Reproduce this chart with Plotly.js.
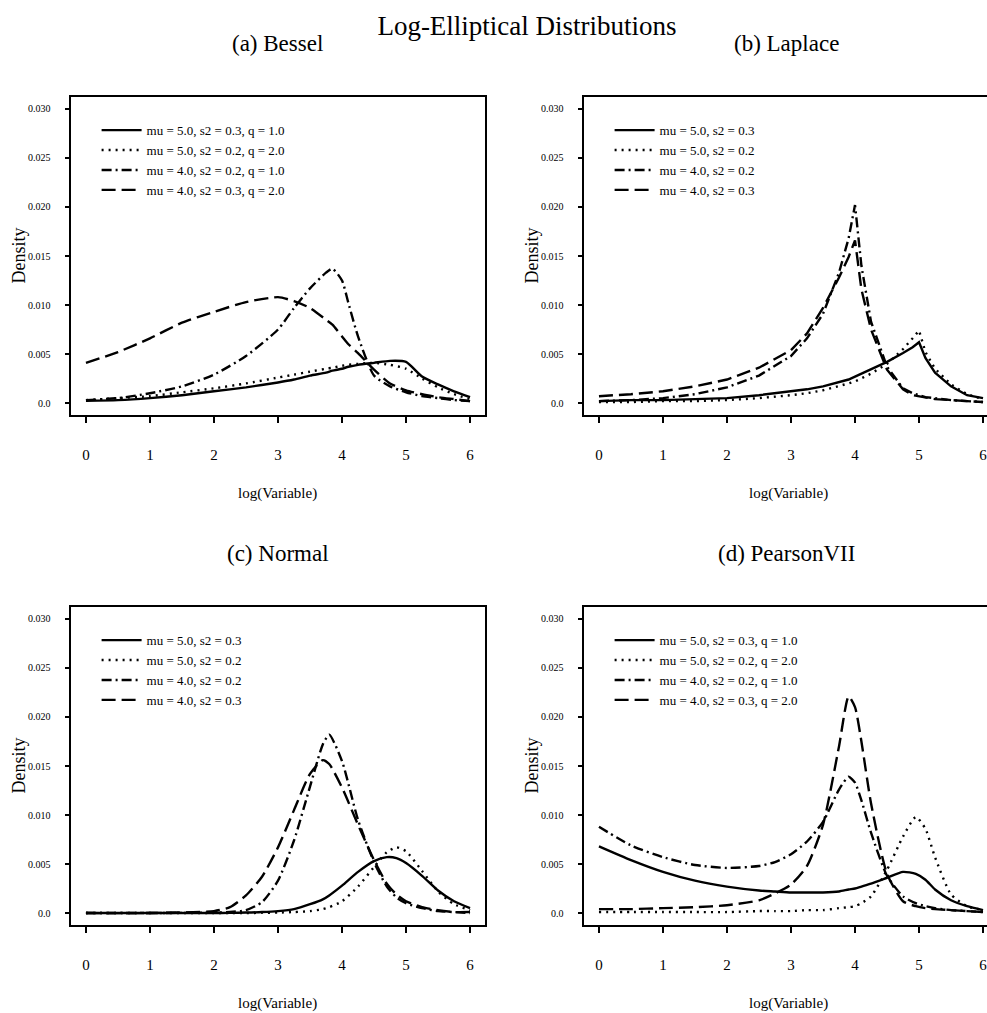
<!DOCTYPE html>
<html>
<head>
<meta charset="utf-8">
<script src="https://cdn.plot.ly/plotly-3.0.1.min.js"></script>
<style>html,body{margin:0;padding:0;overflow:hidden;background:#fff;}</style>
</head>
<body>
<div id="chart"></div>
<script>
// ---------- data ----------
const mainTitle = "Log-Elliptical Distributions";
const panelTitles = ["(a) Bessel", "(b) Laplace", "(c) Normal", "(d) PearsonVII"];
const xTitle = "log(Variable)";
const yTitle = "Density";
const xTickVals = [0, 1, 2, 3, 4, 5, 6];
const yTickVals = [0, 0.005, 0.010, 0.015, 0.020, 0.025, 0.030];
const yTickText = ["0.0", "0.005", "0.010", "0.015", "0.020", "0.025", "0.030"];

const legendQ = ["mu = 5.0, s2 = 0.3, q = 1.0", "mu = 5.0, s2 = 0.2, q = 2.0",
                 "mu = 4.0, s2 = 0.2, q = 1.0", "mu = 4.0, s2 = 0.3, q = 2.0"];
const legendNoQ = ["mu = 5.0, s2 = 0.3", "mu = 5.0, s2 = 0.2",
                   "mu = 4.0, s2 = 0.2", "mu = 4.0, s2 = 0.3"];

// (a) Bessel
const xBessel = [0,0.5,1,1.5,2,2.5,3,3.25,3.5,3.75,3.85,4,4.1,4.25,4.5,4.75,5,5.25,5.5,5.75,6];
const besselSolid   = [0.00024,0.0003,0.0005,0.0008,0.0012,0.0016,0.0021,0.0024,0.0028,0.0031,0.0033,0.0035,0.0037,0.0039,0.0041,0.0043,0.0042,0.0027,0.0019,0.0012,0.0006];
const besselDotted  = [0.0003,0.0005,0.0007,0.0011,0.0015,0.0020,0.0026,0.0029,0.0032,0.0035,0.0036,0.0038,0.0039,0.0040,0.0041,0.0039,0.0035,0.0025,0.0016,0.0009,0.0004];
const besselDashDot = [0.0003,0.0005,0.0010,0.0017,0.0029,0.0048,0.0075,0.0097,0.0117,0.0133,0.0137,0.0125,0.0102,0.0068,0.0028,0.0017,0.0011,0.0007,0.0005,0.0003,0.0002];
const besselDashed  = [0.0041,0.0052,0.0066,0.0082,0.0093,0.0103,0.0108,0.0104,0.0097,0.0085,0.0080,0.0068,0.0060,0.0051,0.0034,0.0020,0.0013,0.0009,0.0006,0.0004,0.0002];

// (b) Laplace
const xLaplace = [0,0.5,1,1.5,2,2.5,3,3.25,3.5,3.75,3.9,4,4.1,4.25,4.5,4.75,4.9,5,5.1,5.25,5.5,5.75,6];
const laplaceSolid   = [0.0002,0.0003,0.0003,0.0004,0.0005,0.0008,0.0012,0.0014,0.0017,0.0021,0.0024,0.0027,0.0030,0.0034,0.0042,0.0051,0.0057,0.0062,0.0046,0.0031,0.0017,0.0008,0.0005];
const laplaceDotted  = [0.0001,0.0001,0.0002,0.0002,0.0003,0.0005,0.0008,0.0010,0.0013,0.0017,0.0020,0.0022,0.0025,0.0030,0.0040,0.0055,0.0066,0.0074,0.0052,0.0035,0.0019,0.0009,0.0004];
const laplaceDashDot = [0.0002,0.0003,0.0005,0.0009,0.0016,0.0028,0.0048,0.0066,0.0091,0.0133,0.0168,0.0202,0.0140,0.0083,0.0037,0.0015,0.0010,0.0008,0.0006,0.0005,0.0003,0.0002,0.0001];
const laplaceDashed  = [0.0007,0.0009,0.0012,0.0017,0.0024,0.0036,0.0054,0.0071,0.0097,0.0128,0.0149,0.0166,0.0116,0.0075,0.0034,0.0014,0.0008,0.0007,0.0006,0.0004,0.0003,0.0002,0.0001];

// (c) Normal
const xNormal = [0,1,2,2.25,2.5,2.75,3,3.25,3.5,3.7,3.8,4,4.25,4.5,4.7,4.85,5,5.25,5.5,5.75,6];
const normalSolid   = [0,0,0,0.00002,0.00005,0.0001,0.0002,0.0004,0.0009,0.0014,0.0018,0.0028,0.0042,0.0053,0.0057,0.0056,0.0051,0.0038,0.0023,0.0012,0.0005];
const normalDotted  = [0,0,0,0,0,0.00002,0.00005,0.0001,0.0002,0.0004,0.0006,0.0012,0.0027,0.0047,0.0062,0.0067,0.0063,0.0043,0.0022,0.0009,0.0003];
const normalDashDot = [0,0,0.00005,0.0001,0.0003,0.0011,0.0033,0.0074,0.0129,0.0172,0.0182,0.0155,0.0095,0.0052,0.0027,0.0016,0.0010,0.0005,0.0002,0.0001,0];
const normalDashed  = [0,0,0.0002,0.0006,0.0018,0.0037,0.0067,0.0105,0.0142,0.0156,0.0152,0.0128,0.0090,0.0054,0.0030,0.0019,0.0012,0.0006,0.0003,0.0001,0.0001];

// (d) PearsonVII
const xPearson = [0,0.5,1,1.5,2,2.5,2.75,3,3.25,3.5,3.75,3.9,4,4.1,4.25,4.5,4.75,4.95,5.1,5.25,5.5,5.75,6];
const pearsonSolid   = [0.0068,0.0054,0.0042,0.0033,0.0027,0.0023,0.0022,0.0021,0.0021,0.0021,0.0022,0.0024,0.0025,0.0027,0.0030,0.0036,0.0042,0.0040,0.0034,0.0024,0.0013,0.0007,0.0003];
const pearsonDotted  = [0.0001,0.0001,0.0001,0.0001,0.0001,0.0002,0.0002,0.0002,0.0003,0.0003,0.0005,0.0006,0.0007,0.0010,0.0017,0.0044,0.0078,0.0098,0.0086,0.0057,0.0019,0.0007,0.0003];
const pearsonDashDot = [0.0088,0.0069,0.0057,0.0049,0.0046,0.0048,0.0052,0.0060,0.0073,0.0093,0.0126,0.0139,0.0133,0.0115,0.0082,0.0038,0.0017,0.0010,0.0007,0.0005,0.0003,0.0002,0.0001];
const pearsonDashed  = [0.0004,0.0004,0.0005,0.0006,0.0008,0.0013,0.0020,0.0029,0.0048,0.0090,0.0170,0.0221,0.0210,0.0175,0.0112,0.0040,0.0012,0.0007,0.0005,0.0004,0.0003,0.0002,0.0001];

// ---------- styling / layout ----------
const FONT = "Liberation Serif, Times New Roman, serif";
const W = 1000, H = 1013;
const dashes = ["solid", "2px,5px", "10px,4px,2px,4px", "14px,6px"];
const lw = 2.4;

const panels = [
  {x: xBessel,  ys: [besselSolid, besselDotted, besselDashDot, besselDashed],     names: legendQ},
  {x: xLaplace, ys: [laplaceSolid, laplaceDotted, laplaceDashDot, laplaceDashed], names: legendNoQ},
  {x: xNormal,  ys: [normalSolid, normalDotted, normalDashDot, normalDashed],     names: legendNoQ},
  {x: xPearson, ys: [pearsonSolid, pearsonDotted, pearsonDashDot, pearsonDashed], names: legendQ}
];

const traces = [];
panels.forEach((p, i) => {
  const sfx = i === 0 ? "" : String(i + 1);
  p.ys.forEach((y, k) => {
    traces.push({
      type: "scatter", mode: "lines",
      x: p.x, y: y, name: p.names[k],
      xaxis: "x" + sfx, yaxis: "y" + sfx,
      legend: "legend" + sfx,
      line: {color: "black", width: lw, dash: dashes[k], shape: i === 1 ? "linear" : "spline", smoothing: 0.6}
    });
  });
});

// pixel boxes of plot areas (left, right, top, bottom)
const boxes = [
  [70.6, 485.4, 97.2, 414.8],
  [583.6, 998.4, 97.2, 414.8],
  [70.6, 485.4, 607.2, 924.8],
  [583.6, 998.4, 607.2, 924.8]
];

const layout = {
  width: W, height: H,
  margin: {l: 0, r: 0, t: 0, b: 0},
  paper_bgcolor: "white", plot_bgcolor: "white",
  showlegend: true,
  font: {family: FONT, color: "black"},
  title: {text: mainTitle, x: 0.527, xanchor: "center", y: 1 - 26 / H, yanchor: "middle",
          font: {family: FONT, size: 27, color: "black"}},
  annotations: []
};

boxes.forEach((b, i) => {
  const sfx = i === 0 ? "" : String(i + 1);
  layout["xaxis" + sfx] = {
    domain: [b[0] / W, b[1] / W], range: [-0.24, 6.24], anchor: "y" + sfx,
    tickvals: xTickVals, ticktext: xTickVals.map(String),
    ticks: "outside", ticklen: 6, tickwidth: 1.5, tickcolor: "black",
    ticklabelstandoff: 19,
    showline: true, mirror: true, linewidth: 2, linecolor: "black",
    showgrid: false, zeroline: false, fixedrange: true,
    tickfont: {family: FONT, size: 15, color: "black"}
  };
  layout["yaxis" + sfx] = {
    domain: [1 - b[3] / H, 1 - b[2] / H], range: [-0.0012, 0.0312], anchor: "x" + sfx,
    tickvals: yTickVals, ticktext: yTickText,
    ticks: "outside", ticklen: 4, tickwidth: 1.5, tickcolor: "black",
    ticklabelstandoff: 12,
    showline: true, mirror: true, linewidth: 2, linecolor: "black",
    showgrid: false, zeroline: false, fixedrange: true,
    tickfont: {family: FONT, size: 10, color: "black"}
  };
  layout["legend" + sfx] = {
    x: (b[0] + 26) / W, xanchor: "left",
    y: 1 - (b[2] + 18) / H, yanchor: "top",
    bgcolor: "rgba(0,0,0,0)", borderwidth: 0,
    itemwidth: 40,
    font: {family: FONT, size: 13, color: "black"},
    tracegroupgap: 0
  };
  const cx = i % 2 === 0 ? 0.2775 : 0.786;
  layout.annotations.push({
    text: panelTitles[i], xref: "paper", yref: "paper", showarrow: false,
    x: cx, y: 1 - (b[2] - 54) / H, xanchor: "center", yanchor: "middle",
    font: {family: FONT, size: 23, color: "black"}
  });
  layout.annotations.push({
    text: xTitle, xref: "paper", yref: "paper", showarrow: false,
    x: i % 2 === 0 ? 0.2775 : 0.788, y: 1 - (b[3] + 79) / H, xanchor: "center", yanchor: "middle",
    font: {family: FONT, size: 15, color: "black"}
  });
  layout.annotations.push({
    text: yTitle, xref: "paper", yref: "paper", showarrow: false, textangle: -90,
    x: (b[0] - 52) / W, y: 1 - ((b[2] + b[3]) / 2) / H, xanchor: "center", yanchor: "middle",
    font: {family: FONT, size: 18, color: "black"}
  });
});

Plotly.newPlot("chart", traces, layout, {staticPlot: true, displayModeBar: false});
</script>
</body>
</html>
